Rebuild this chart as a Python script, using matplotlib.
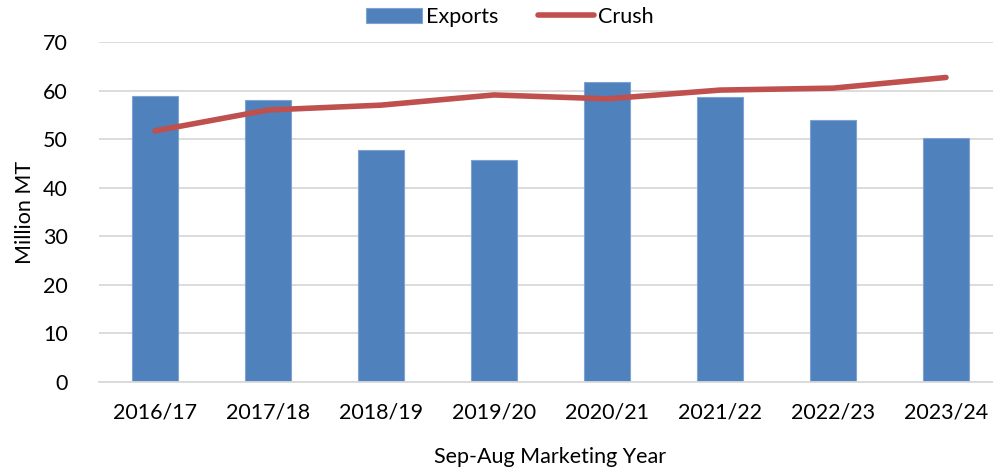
import numpy as np
import matplotlib
matplotlib.use("Agg")
import matplotlib.pyplot as plt

plt.rcParams['font.family'] = ['Lato', 'DejaVu Sans']

years = ['2016/17', '2017/18', '2018/19', '2019/20', '2020/21', '2021/22', '2022/23', '2023/24']
exports = [58.9, 58.0, 47.7, 45.8, 61.7, 58.7, 53.9, 50.3]
crush = [51.7, 56.0, 57.0, 59.1, 58.3, 60.1, 60.5, 62.7]

fig = plt.figure(figsize=(9.93, 4.68), dpi=100)
ax = fig.add_axes([98.5/993, (468-382)/468, 904/993, 340/468])

x = np.arange(len(years))
bars = ax.bar(x, exports, width=0.4, color='#4f81bd', edgecolor='#7ea3d3', linewidth=0.8,
              label='Exports', zorder=2)
line, = ax.plot(x, crush, color='#c0504d', linewidth=4, solid_capstyle='round',
                label='Crush', zorder=3)

ax.set_xlim(-0.5, len(years) - 0.5)
ax.set_ylim(0, 70)
ax.set_yticks(range(0, 71, 10))
ax.set_xticks(x)
ax.set_xticklabels(years)
ax.tick_params(axis='both', length=0, labelsize=15.5, colors='black')
ax.tick_params(axis='x', pad=15)
ax.tick_params(axis='y', pad=22)
ax.yaxis.grid(True, color='#d9d9d9', linewidth=1.3, zorder=0)
ax.set_axisbelow(True)
for s in ['top', 'right', 'left']:
    ax.spines[s].set_visible(False)
ax.spines['bottom'].set_color('#d9d9d9')
ax.spines['bottom'].set_linewidth(1.3)

ax.set_ylabel('Million MT', fontsize=15.5, labelpad=6)
ax.set_xlabel('Sep-Aug Marketing Year', fontsize=15.5)
ax.xaxis.set_label_coords(0.499, -0.19)

ax.legend([bars, line], ['Exports', 'Crush'], loc='lower center',
          bbox_to_anchor=(0.455, 1.02), ncol=2, frameon=False,
          fontsize=15.5, handlelength=2.6, handletextpad=0.2, columnspacing=1.8,
          borderaxespad=0)

fig.savefig('out.png', dpi=100)
